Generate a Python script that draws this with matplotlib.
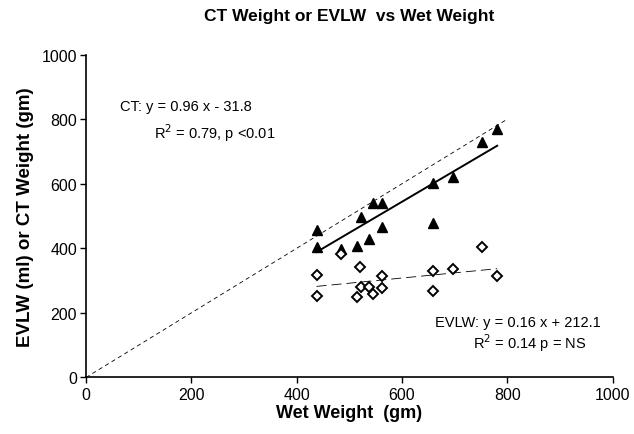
import numpy as np
import matplotlib
matplotlib.use("Agg")
import matplotlib.pyplot as plt

plt.rcParams['font.family'] = ['Liberation Sans', 'DejaVu Sans']

# CT weight vs wet weight (filled triangles)
ct_wet = [438, 438, 484, 514, 522, 538, 546, 563, 562, 660, 660, 697, 753, 781]
ct_weight = [458, 403, 398, 406, 496, 429, 542, 540, 465, 602, 478, 622, 731, 769]

# EVLW vs wet weight (open diamonds)
evlw_wet = [438, 438, 484, 520, 514, 522, 538, 546, 563, 562, 660, 660, 697, 752, 780]
evlw = [317, 253, 382, 341, 248, 279, 279, 259, 276, 315, 331, 269, 336, 403, 315]

# regression fits as reported on the chart
ct_slope, ct_icpt = 0.96, -31.8
evlw_slope, evlw_icpt = 0.16, 212.1
identity_x = [0, 800]

fig = plt.figure(figsize=(6.34, 4.35), dpi=100)
ax = fig.add_axes([0.1356, 0.1299, 0.8305, 0.7421])

ax.plot(identity_x, identity_x, color="black", lw=0.6, ls=(0, (5, 4)))

fx = np.array([min(ct_wet), max(ct_wet)])
ax.plot(fx, ct_slope * fx + ct_icpt, color="black", lw=1.4)
ax.plot(fx, evlw_slope * fx + evlw_icpt, color="black", lw=0.6, ls=(0, (12, 6)))

ax.plot(ct_wet, ct_weight, ls="none", marker="^", ms=6.5, color="black")
ax.plot(evlw_wet, evlw, ls="none", marker="D", ms=5.5, mfc="white",
        mec="black", mew=1.4)

ax.text(64, 840, "CT: y = 0.96 x - 31.8", fontsize=10.5, va="center")
ax.text(129, 760, "R$^2$ = 0.79, p <0.01", fontsize=10.5, va="center")
ax.text(663, 172, "EVLW: y = 0.16 x + 212.1", fontsize=10.5, va="center")
ax.text(735, 110, "R$^2$ = 0.14 p = NS", fontsize=10.5, va="center")

ax.set_xlim(0, 1000)
ax.set_ylim(0, 1000)
ax.set_xticks(range(0, 1001, 200))
ax.set_yticks(range(0, 1001, 200))
ax.spines["top"].set_visible(False)
ax.spines["right"].set_visible(False)
ax.spines["left"].set_linewidth(1.2)
ax.spines["bottom"].set_linewidth(1.2)
ax.tick_params(direction="out", length=4, width=1, labelsize=11.5, pad=2.5)

ax.set_xlabel("Wet Weight  (gm)", fontsize=13, fontweight="bold", labelpad=2)
ax.set_ylabel("EVLW (ml) or CT Weight (gm)", fontsize=13.5, fontweight="bold", labelpad=5)
fig.text(0.55, 1 - 17 / 435, "CT Weight or EVLW  vs Wet Weight", fontsize=12.5,
         fontweight="bold", ha="center", va="center")

fig.savefig("out.png", dpi=100)
